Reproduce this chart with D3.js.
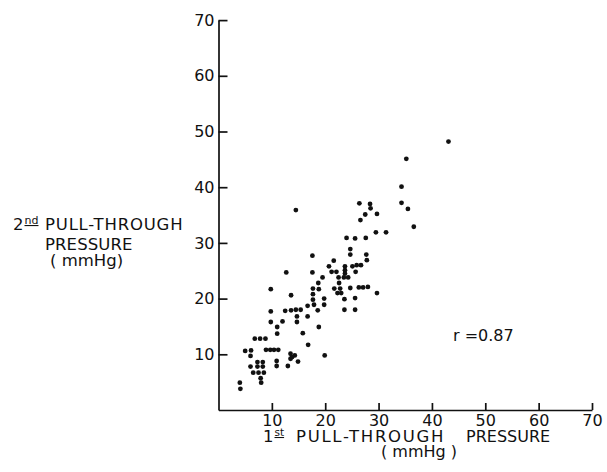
<!DOCTYPE html>
<html>
<head>
<meta charset="utf-8">
<style>
  body { margin: 0; background: #fff; }
  text { font-family: "DejaVu Sans", sans-serif; fill: #111; }
</style>
</head>
<body>
<svg id="chart" width="607" height="472"></svg>
<script src="https://d3js.org/d3.v7.min.js"></script>
<script>
// 1st pull-through pressure (mmHg), one entry per subject
const firstPressure = [
  4.0, 4.1, 5.0, 6.1, 6.0, 6.0, 6.5, 6.8, 7.8, 8.8,
  7.3, 8.3, 7.3, 8.3, 7.5, 8.5, 7.9, 8.0, 8.9, 9.7,
  10.4, 11.2, 9.8, 9.8, 9.8, 11.0, 11.0, 12.0, 10.9, 10.9,
  12.7, 12.5, 13.6, 13.6, 14.5, 14.5, 15.4, 14.7, 14.7, 13.0,
  13.5, 13.5, 14.3, 13.8, 14.9, 15.8, 16.7, 16.7, 16.8, 17.6,
  17.6, 17.7, 17.7, 17.7, 17.9, 18.7, 18.8, 18.6, 18.8, 19.5,
  19.8, 19.8, 19.9, 20.7, 21.2, 21.6, 22.1, 22.5, 21.7, 22.6,
  22.8, 22.3, 23.0, 23.7, 23.7, 23.7, 23.5, 24.3, 23.6, 23.6,
  24.0, 24.7, 24.7, 24.7, 25.1, 25.6, 25.7, 25.9, 25.6, 25.6,
  26.7, 26.4, 26.6, 26.3, 27.1, 27.5, 27.6, 27.7, 27.8, 28.0,
  28.4, 28.5, 29.7, 29.5, 29.7, 31.4, 34.3, 34.3, 35.5, 36.6,
  35.2, 43.1
];
// 2nd pull-through pressure (mmHg), same order
const secondPressure = [
  4.9, 3.8, 10.6, 10.7, 9.7, 7.8, 6.7, 12.8, 12.8, 12.8,
  8.6, 8.6, 7.8, 7.8, 6.7, 6.7, 5.7, 4.9, 10.8, 10.8,
  10.8, 10.8, 21.7, 17.7, 15.8, 14.9, 13.7, 15.9, 8.8, 7.9,
  24.7, 17.8, 20.6, 17.9, 35.9, 18.0, 18.0, 16.8, 15.8, 7.9,
  10.1, 9.2, 9.8, 9.5, 8.7, 13.8, 18.7, 16.8, 11.7, 27.7,
  24.7, 21.8, 20.8, 19.8, 18.9, 22.8, 21.7, 17.9, 14.9, 23.8,
  20.0, 18.9, 9.8, 25.8, 24.8, 26.8, 24.8, 23.8, 21.8, 22.8,
  21.8, 21.0, 21.0, 25.8, 25.1, 24.5, 23.8, 23.8, 19.9, 18.0,
  30.9, 28.9, 27.9, 21.9, 25.8, 30.8, 24.8, 26.0, 20.1, 18.0,
  26.0, 37.1, 34.1, 22.0, 22.0, 35.1, 30.9, 27.9, 26.9, 22.1,
  37.0, 36.2, 35.2, 31.9, 21.0, 31.9, 40.1, 37.2, 36.1, 32.9,
  45.1, 48.2
];

const xTicks = [10, 20, 30, 40, 50, 60, 70];
const yTicks = [10, 20, 30, 40, 50, 60, 70];
const correlation = "r =0.87";

const svg = d3.select("#chart");

const x = d3.scaleLinear().domain([0, 70]).range([218.5, 592]);
const y = d3.scaleLinear().domain([0, 70]).range([410, 20.1]);

// axes - ticks point inward like the original
const xAxis = svg.append("g")
    .attr("transform", "translate(0," + y(0) + ")")
    .call(d3.axisBottom(x).tickValues(xTicks).tickSizeInner(-7).tickSizeOuter(0).tickPadding(5));

const yAxis = svg.append("g")
    .attr("transform", "translate(" + x(0) + ",0)")
    .call(d3.axisLeft(y).tickValues(yTicks).tickSizeInner(-9).tickSizeOuter(0).tickPadding(4));

[xAxis, yAxis].forEach(g => {
  g.attr("font-family", null).attr("font-size", null);
  g.selectAll("path, line").attr("stroke", "#111").attr("stroke-width", 1.7);
  g.selectAll("text").style("font-size", "16px").attr("fill", "#111");
});

// points
const pts = firstPressure.map((v, i) => ({ a: v, b: secondPressure[i] }));
svg.append("g")
  .selectAll("circle")
  .data(pts)
  .enter()
  .append("circle")
    .attr("cx", d => x(d.a))
    .attr("cy", d => y(d.b))
    .attr("r", 2.4)
    .attr("fill", "#111");

// y axis title
const yt = svg.append("text").style("font-size", "16.5px");
yt.append("tspan").attr("x", 13).attr("y", 230).text("2");
yt.append("tspan").style("font-size", "11px").style("text-decoration", "underline")
  .attr("dx", 1).attr("dy", -6).text("nd");
yt.append("tspan").attr("x", 45).attr("y", 230).attr("letter-spacing", 0.8).text("PULL-THROUGH");
svg.append("text").attr("x", 45).attr("y", 249.5).style("font-size", "16.5px")
  .attr("letter-spacing", 0.1).text("PRESSURE");
svg.append("text").attr("x", 50).attr("y", 266).style("font-size", "16.5px").text("( mmHg)");

// x axis title
const xt = svg.append("text").style("font-size", "16.5px");
xt.append("tspan").attr("x", 263).attr("y", 442).text("1");
xt.append("tspan").style("font-size", "10.5px").style("text-decoration", "underline")
  .attr("dx", 1).attr("dy", -6).text("st");
xt.append("tspan").attr("x", 296).attr("y", 442).attr("letter-spacing", 1.7).text("PULL-THROUGH");
xt.append("tspan").attr("x", 466).attr("y", 442).style("font-size", "16px").text("PRESSURE");
svg.append("text").attr("x", 419).attr("y", 457).attr("text-anchor", "middle")
  .style("font-size", "16px").text("( mmHg )");

// correlation note
svg.append("text").attr("x", 453).attr("y", 340.5).style("font-size", "16px").text(correlation);
</script>
</body>
</html>
